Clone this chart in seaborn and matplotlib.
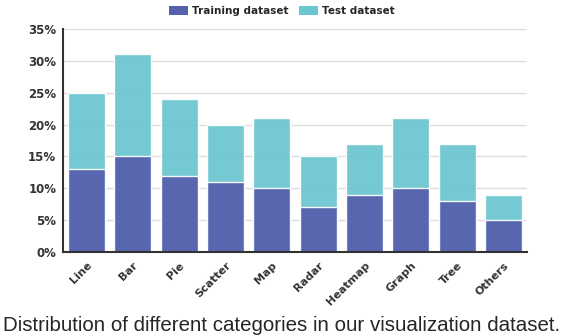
import matplotlib
matplotlib.use("Agg")
import matplotlib.pyplot as plt
import seaborn as sns
import pandas as pd
import numpy as np
from matplotlib.patches import Patch

# values (percent)
categories = ["Line", "Bar", "Pie", "Scatter", "Map", "Radar", "Heatmap", "Graph", "Tree", "Others"]
training = [13, 15, 12, 11, 10, 7, 9, 10, 8, 5]
test = [12, 16, 12, 9, 11, 8, 8, 11, 9, 4]

train_color = "#5661ad"
test_color = "#6cc6d1"

df = pd.DataFrame({"category": categories, "training": training, "test": test})
df["total"] = df["training"] + df["test"]

sns.set_style("white")
fig = plt.figure(figsize=(5.64, 3.36), dpi=100)
ax = fig.add_axes([0.112, 0.25, 0.822, 0.664])

ax.yaxis.grid(True, color="#dddddd", linewidth=1)
ax.set_axisbelow(True)

# stacked bars: total drawn first, training on top of it
sns.barplot(data=df, x="category", y="total", color=test_color, saturation=1, width=0.8, ax=ax)
sns.barplot(data=df, x="category", y="training", color=train_color, saturation=1, width=0.8, ax=ax)
for p in ax.patches:
    p.set_alpha(0.95)

ax.set_ylim(0, 35)
ax.set_xlim(-0.5, len(categories) - 0.5)
ax.set_yticks(range(0, 36, 5))
ax.set_yticklabels([f"{v}%" for v in range(0, 36, 5)], fontsize=8.5, fontweight="bold", color="#333333")
ax.set_xlabel("")
ax.set_ylabel("")

# ticks at the gaps, labels at bar centres
ax.set_xticks(np.arange(len(categories) + 1) - 0.5)
ax.set_xticklabels([])
ax.set_xticks(np.arange(len(categories)), minor=True)
ax.set_xticklabels(categories, minor=True, rotation=45, ha="right", rotation_mode="anchor",
                   fontsize=8, fontweight="bold", color="#333333")
ax.tick_params(axis="x", which="minor", length=0, pad=6)
ax.tick_params(axis="x", which="major", length=3, width=0.8, color="#333333")
ax.tick_params(axis="y", length=3, width=0.8, color="#333333", pad=2)

sns.despine(ax=ax)
for s in ["left", "bottom"]:
    ax.spines[s].set_color("#333333")
    ax.spines[s].set_linewidth(1.5)

handles = [Patch(facecolor=train_color, edgecolor="none"), Patch(facecolor=test_color, edgecolor="none")]
fig.legend(handles, ["Training dataset", "Test dataset"], loc="upper center", bbox_to_anchor=(0.5, 1.01),
           ncol=2, frameon=False, prop={"size": 7.5, "weight": "bold"}, handlelength=1.8, handleheight=0.9,
           columnspacing=1.0, handletextpad=0.4)

# caption under the chart
fig.text(0.5, 0.03, "Distribution of different categories in our visualization dataset.",
         fontsize=14.8, family="Liberation Sans", ha="center", va="center")

fig.savefig("out.png", dpi=100)
